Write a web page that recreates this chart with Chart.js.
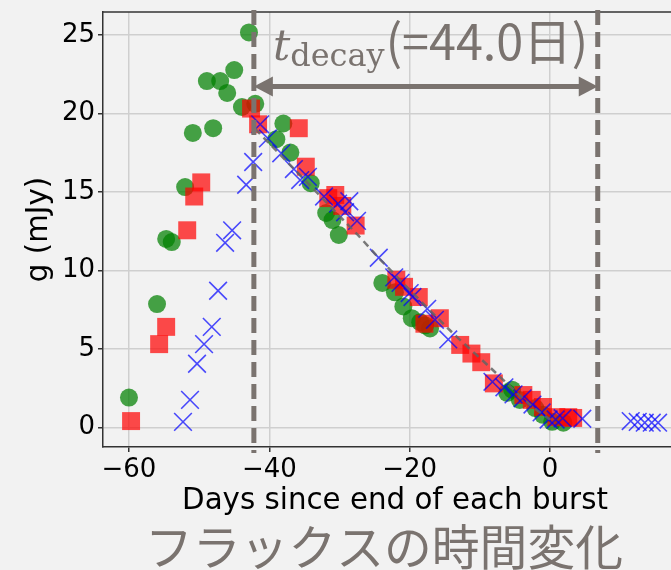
<!DOCTYPE html>
<html><head><meta charset="utf-8">
<script src="https://cdn.jsdelivr.net/npm/chart.js@4/dist/chart.umd.min.js"></script>
<style>
html,body{margin:0;padding:0;overflow:hidden;background:#f2f2f2;width:671px;height:570px;}
#clip{position:relative;width:671px;height:570px;overflow:hidden;}
#c{position:absolute;left:0;top:0;width:687px;height:570px;}
</style></head><body>
<div id="clip"><canvas id="c" width="687" height="570"></canvas></div>
<script>
// ---- data (days since end of burst, g in mJy) ----
const greenPts = [[-60.0,1.9],[-56.0,7.85],[-54.7,12.0],[-53.9,11.8],[-52.0,15.3],[-50.9,18.75],[-48.9,22.05],[-48.0,19.05],[-47.0,22.05],[-46.0,21.3],[-45.0,22.75],[-43.9,20.4],[-42.9,25.15],[-42.0,20.6],[-39.0,18.35],[-38.0,19.35],[-37.0,17.5],[-34.1,15.55],[-31.9,13.65],[-31.0,13.2],[-30.1,12.25],[-23.9,9.2],[-22.1,8.6],[-20.9,7.7],[-19.7,6.95],[-18.5,6.7],[-17.8,6.5],[-17.1,6.3],[-6.1,2.2],[-5.4,2.4],[-4.3,1.75],[-2.1,1.23],[-1.0,0.8],[0.3,0.35],[1.9,0.3]];
const redPts = [[-59.7,0.4],[-55.7,5.3],[-54.7,6.4],[-51.7,12.55],[-50.7,14.7],[-49.7,15.6],[-42.6,20.3],[-41.6,19.3],[-35.8,19.05],[-34.8,16.6],[-31.6,14.6],[-30.6,14.8],[-29.6,14.1],[-27.7,12.85],[-21.9,9.4],[-20.8,8.95],[-18.7,8.3],[-17.9,6.6],[-15.7,6.95],[-12.8,5.25],[-11.2,4.7],[-9.8,4.15],[-8.0,2.8],[-3.8,2.06],[-2.6,1.75],[-1.0,1.3],[0.9,0.65],[2.6,0.65],[3.3,0.6]];
const bluePts = [[-52.3,0.35],[-51.3,1.75],[-50.3,4.05],[-49.3,5.3],[-48.2,6.4],[-47.3,8.7],[-46.3,11.75],[-45.3,12.55],[-43.3,15.45],[-42.3,16.9],[-41.3,19.3],[-40.2,18.4],[-38.3,17.45],[-36.5,16.45],[-35.6,15.75],[-34.5,15.95],[-32.2,14.7],[-30.2,14.25],[-28.6,14.4],[-29.2,13.7],[-27.5,13.15],[-24.4,10.8],[-22.2,9.55],[-21.3,9.2],[-20.0,8.55],[-19.6,8.3],[-17.5,7.55],[-16.4,6.85],[-14.5,5.6],[-8.2,2.9],[-6.5,2.55],[-5.2,2.1],[-3.9,1.85],[-2.5,1.45],[-1.2,0.95],[-0.2,0.5],[0.8,0.5],[1.8,0.58],[4.6,0.55],[11.5,0.4],[12.5,0.35],[13.5,0.3],[14.5,0.3],[15.4,0.3]];
const fitPts = [[-42.0,19.0],[-27.5,12.3],[-23.8,10.5],[-14.3,6.2],[-8.5,3.8],[-3.0,1.5],[0.0,0.5]];
const xTicks = [-60,-40,-20,0];
const yTicks = [0,5,10,15,20,25];
const decayStart = -42.2;
const decayEnd = 6.8;
const arrowLevel = 21.7;
const titleText = 'フラックスの時間変化';
const xLabel = 'Days since end of each burst';
const yLabel = 'g (mJy)';
const annoMain = 't';
const annoSub = 'decay';
const annoRest = '(=44.0日)';

const toXY = a => a.map(p => ({x:p[0], y:p[1]}));
const GRAY = '#7a736f';

const bgPlugin = {
  id:'bg',
  beforeDraw(chart){
    const c = chart.ctx; c.save(); c.fillStyle='#f2f2f2';
    c.fillRect(0,0,chart.width,chart.height); c.restore();
  },
  afterDraw(chart){
    const c = chart.ctx, a = chart.chartArea, xs = chart.scales.x, ys = chart.scales.y;
    c.save();
    // top spine
    c.strokeStyle = '#333'; c.lineWidth = 1.5;
    c.beginPath(); c.moveTo(a.left, a.top); c.lineTo(a.right, a.top); c.stroke();
    // decay window markers
    const x1 = xs.getPixelForValue(decayStart), x2 = xs.getPixelForValue(decayEnd);
    c.strokeStyle = GRAY; c.lineWidth = 5; c.setLineDash([15,7]);
    [x1,x2].forEach(x => { c.beginPath(); c.moveTo(x, a.top-2); c.lineTo(x, a.bottom+6); c.stroke(); });
    c.setLineDash([]);
    const ay = ys.getPixelForValue(arrowLevel);
    const hl = 19, hh = 10;
    c.lineWidth = 5;
    c.beginPath(); c.moveTo(x1+hl-2, ay); c.lineTo(x2-hl+2, ay); c.stroke();
    c.fillStyle = GRAY;
    c.beginPath(); c.moveTo(x1, ay); c.lineTo(x1+hl, ay-hh); c.lineTo(x1+hl, ay+hh); c.closePath(); c.fill();
    c.beginPath(); c.moveTo(x2, ay); c.lineTo(x2-hl, ay-hh); c.lineTo(x2-hl, ay+hh); c.closePath(); c.fill();
    // annotation label
    c.textBaseline = 'alphabetic'; c.textAlign = 'left';
    c.font = 'italic 43px "DejaVu Serif"';
    const tx = x1 + 19;
    c.fillText(annoMain, tx, 60);
    const tw = c.measureText(annoMain).width;
    c.font = '32px "DejaVu Serif"';
    c.fillText(annoSub, tx + tw, 66);
    const sw = c.measureText(annoSub).width;
    c.font = '48.5px "Noto Sans CJK JP"';
    c.fillText(annoRest, tx + tw + sw + 1, 59.5);
    // figure title
    c.font = '47.8px "Noto Sans CJK JP"';
    c.textAlign = 'center'; c.textBaseline = 'middle';
    c.fillText(titleText, 384, 547);
    c.restore();
  }
};

new Chart(document.getElementById('c'), {
  type:'scatter',
  data:{ datasets:[
    { type:'line', data: toXY(fitPts), borderColor:'rgba(100,100,100,0.85)', borderWidth:2.5, borderDash:[7,5], pointRadius:0, fill:false, tension:0.3 },
    { data: toXY(bluePts), pointStyle:'crossRot', pointRadius:12.5, pointBorderWidth:1.6, borderColor:'rgba(0,0,255,0.7)', backgroundColor:'rgba(0,0,255,0.7)' },
    { data: toXY(redPts), pointStyle:'rect', pointRadius:12.7, pointBorderWidth:0, borderColor:'rgba(255,0,0,0)', backgroundColor:'rgba(255,0,0,0.7)' },
    { data: toXY(greenPts), pointStyle:'circle', pointRadius:9, pointBorderWidth:0, borderColor:'rgba(0,128,0,0)', backgroundColor:'rgba(0,128,0,0.72)' }
  ]},
  options:{
    responsive:false, maintainAspectRatio:false, animation:false, devicePixelRatio:1,
    layout:{ autoPadding:false, padding:{ left:0, right:0, top:12, bottom:46 } },
    plugins:{ legend:{display:false}, tooltip:{enabled:false}, title:{display:false} },
    scales:{
      x:{ type:'linear', min:-63.7, max:19.52,
        afterBuildTicks(s){ s.ticks = xTicks.map(v=>({value:v})); },
        afterFit(s){ s.height = 77; s.paddingLeft = 0; s.paddingRight = 0; },
        ticks:{ color:'#000', font:{family:'"DejaVu Sans"', size:26}, padding:3, maxRotation:0,
          callback:v => (v<0 ? '\u2212'+Math.abs(v) : ''+v) },
        grid:{ color:'#cfcfcf', lineWidth:1.5, tickColor:'#333', tickLength:5, tickWidth:1.5 },
        border:{ color:'#333', width:1.5 },
        title:{ display:true, text:xLabel, color:'#000', font:{family:'"DejaVu Sans"', size:29.3}, padding:{top:0,bottom:5} }
      },
      y:{ type:'linear', min:-1.25, max:26.45,
        afterBuildTicks(s){ s.ticks = yTicks.map(v=>({value:v})); },
        afterFit(s){ s.width = 103; s.paddingTop = 0; s.paddingBottom = 0; },
        ticks:{ color:'#000', font:{family:'"DejaVu Sans"', size:26}, padding:3 },
        grid:{ color:'#cfcfcf', lineWidth:1.5, tickColor:'#333', tickLength:5, tickWidth:1.5 },
        border:{ color:'#333', width:1.5 },
        title:{ display:true, text:yLabel, color:'#000', font:{family:'"DejaVu Sans"', size:29.3}, padding:{top:22,bottom:0} }
      }
    }
  },
  plugins:[bgPlugin]
});
</script>
</body></html>
